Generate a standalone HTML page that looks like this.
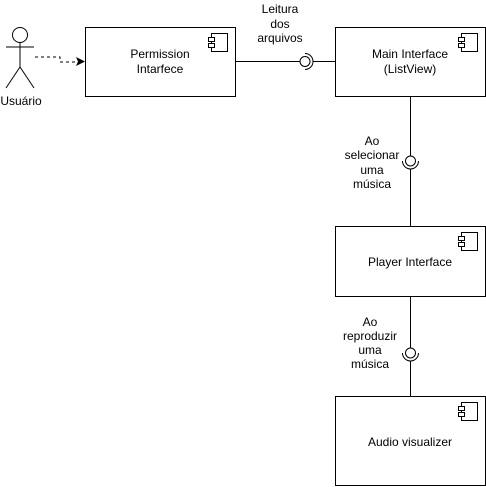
<!DOCTYPE html>
<html><head><style>
html,body{margin:0;padding:0;background:#fff;}
svg{display:block;}
text{font-family:"Liberation Sans",Arial,sans-serif;font-size:12px;fill:#000;}
</style></head><body>
<svg width="486" height="487" viewBox="0 0 486 487" xmlns="http://www.w3.org/2000/svg">
<g fill="none" stroke="#000" stroke-width="1">
<!-- actor -->
<circle cx="20" cy="35" r="7.5"/>
<line x1="20" y1="42.5" x2="20" y2="67"/>
<line x1="6" y1="47" x2="34" y2="47"/>
<line x1="20" y1="67" x2="6" y2="88"/>
<line x1="20" y1="67" x2="34" y2="88"/>
<!-- dashed arrow -->
<path d="M35 57 H60 V62 H79" stroke-dasharray="3,3"/>
<!-- boxes -->
<rect x="85.5" y="27.5" width="150" height="69"/>
<rect x="335.5" y="27.5" width="150" height="69"/>
<rect x="335.5" y="226.5" width="150" height="70"/>
<rect x="335.5" y="396.5" width="150" height="89"/>
<!-- horizontal interface -->
<line x1="235.5" y1="61.5" x2="300" y2="61.5"/>
<circle cx="305" cy="61.5" r="5"/>
<path d="M305 53.5 A8 8 0 0 1 305 69.5"/>
<line x1="313" y1="61.5" x2="335.5" y2="61.5"/>
<!-- vertical interface 1 -->
<line x1="410.5" y1="96.5" x2="410.5" y2="156"/>
<circle cx="410.5" cy="161" r="5"/>
<path d="M402.5 161 A8 8 0 0 0 418.5 161"/>
<line x1="410.5" y1="169" x2="410.5" y2="226.5"/>
<!-- vertical interface 2 -->
<line x1="410.5" y1="296.5" x2="410.5" y2="348"/>
<circle cx="410.5" cy="353" r="5"/>
<path d="M402.5 353 A8 8 0 0 0 418.5 353"/>
<line x1="410.5" y1="361" x2="410.5" y2="396.5"/>
<!-- component icons -->
<g id="ic">
<rect x="211.5" y="33.5" width="16" height="18"/>
<rect x="208.5" y="37.5" width="6" height="4" fill="#fff"/>
<rect x="208.5" y="43.5" width="6" height="4" fill="#fff"/>
</g>
<use href="#ic" x="250" y="0"/>
<use href="#ic" x="250" y="199"/>
<use href="#ic" x="250" y="369"/>
</g>
<path d="M85 61.5 L76 57 L78 61.5 L76 66 Z" fill="#000"/>
<g text-anchor="middle">
<text x="21" y="105">Usuário</text>
<text x="160" y="58">Permission</text>
<text x="160" y="73">Intarfece</text>
<text x="410" y="58">Main Interface</text>
<text x="410" y="73">(ListView)</text>
<text x="410" y="266">Player Interface</text>
<text x="410" y="446">Audio visualizer</text>
<text x="280" y="13">Leitura</text>
<text x="280" y="28">dos</text>
<text x="280" y="42">arquivos</text>
<text x="372" y="145">Ao</text>
<text x="372" y="159">selecionar</text>
<text x="372" y="174">uma</text>
<text x="372" y="188">música</text>
<text x="370" y="326">Ao</text>
<text x="370" y="340">reproduzir</text>
<text x="370" y="354">uma</text>
<text x="370" y="368">música</text>
</g>
</svg>
</body></html>
